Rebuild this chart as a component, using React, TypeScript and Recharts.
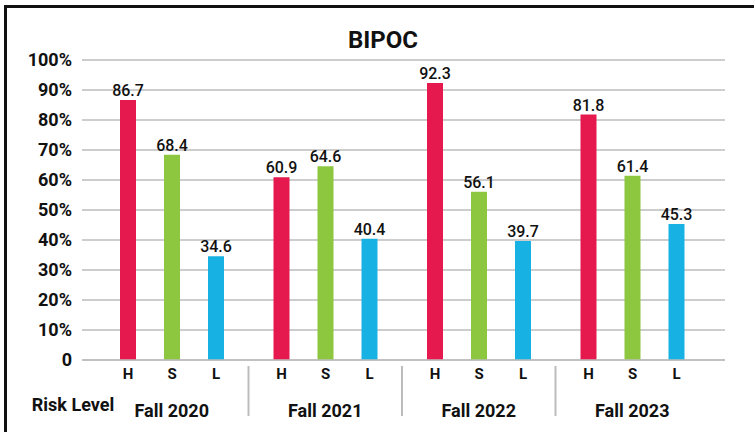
import { BarChart, Bar, XAxis, YAxis, CartesianGrid, LabelList } from 'recharts'

const seasons = ['Fall 2020', 'Fall 2021', 'Fall 2022', 'Fall 2023']
const highRisk = [86.7, 60.9, 92.3, 81.8]
const someRisk = [68.4, 64.6, 56.1, 61.4]
const lowRisk = [34.6, 40.4, 39.7, 45.3]
const riskLevels = ['H', 'S', 'L']
const yTicks = [0, 10, 20, 30, 40, 50, 60, 70, 80, 90, 100]

const data = seasons.map((season, i) => ({
  season,
  H: highRisk[i],
  S: someRisk[i],
  L: lowRisk[i],
}))

const FONT = "Roboto, 'Liberation Sans', sans-serif"
const GRID = '#bcbcbc'
const COLORS = ['#e5194e', '#8dc63f', '#17b1e3']

// letter under each bar (H / S / L), placed from the bar's own geometry
const riskLabel = (letter: string) => (p: any) => (
  <text
    x={p.x + p.width / 2}
    y={p.y + p.height + 19}
    textAnchor="middle"
    fontFamily={FONT}
    fontWeight="bold"
    fontSize={15}
    fill="#111"
  >
    {letter}
  </text>
)

const valueLabel = (p: any) => (
  <text
    x={p.x + p.width / 2}
    y={p.y - 4}
    textAnchor="middle"
    fontFamily={FONT}
    fontWeight={500}
    fontSize={16}
    fill="#111"
  >
    {p.value}
  </text>
)

function SeasonTick(props: any) {
  const { x, y, payload } = props
  const half = payload.offset ?? 77
  return (
    <g>
      {payload.index > 0 && (
        <line x1={x - half} x2={x - half} y1={y} y2={y + 50} stroke={GRID} strokeWidth={2} />
      )}
      <text x={x} y={y + 51} textAnchor="middle" fontFamily={FONT} fontWeight="bold" fontSize={18} fill="#111">
        {payload.value}
      </text>
    </g>
  )
}

export default function App() {
  return (
    <div style={{ position: 'absolute', left: 0, top: 0, width: 754, height: 432, background: '#fff' }}>
      <div
        style={{
          position: 'absolute',
          left: 4,
          top: 5,
          right: 0,
          bottom: 0,
          borderTop: '3px solid #111',
          borderLeft: '3px solid #111',
        }}
      />
      <div style={{ position: 'absolute', left: 0, top: 0 }}>
        <BarChart
          width={754}
          height={432}
          data={data}
          margin={{ top: 60, right: 29, bottom: 12, left: 22 }}
          barSize={16}
          barGap={28}
        >
          <text x={383} y={48} textAnchor="middle" fontFamily={FONT} fontWeight="bold" fontSize={24} fill="#111">
            BIPOC
          </text>
          <text x={73} y={411} textAnchor="middle" fontFamily={FONT} fontWeight="bold" fontSize={18} fill="#111">
            Risk Level
          </text>
          <CartesianGrid vertical={false} stroke={GRID} strokeWidth={1.5} />
          <XAxis
            dataKey="season"
            height={60}
            padding={{ left: 13, right: 16 }}
            axisLine={{ stroke: GRID, strokeWidth: 1.5 }}
            tickLine={false}
            tickMargin={0}
            tick={<SeasonTick />}
            interval={0}
          />
          <YAxis
            width={60}
            domain={[0, 100]}
            ticks={yTicks}
            interval={0}
            axisLine={false}
            tickLine={false}
            tickMargin={4}
            tickFormatter={(v: number) => (v === 0 ? '0' : `${v}%`)}
            tick={{ fontFamily: FONT, fontWeight: 'bold', fontSize: 18, fill: '#111' }}
          />
          {riskLevels.map((r, i) => (
            <Bar key={r} dataKey={r} fill={COLORS[i]} isAnimationActive={false}>
              <LabelList dataKey={r} content={valueLabel} />
              <LabelList dataKey={r} content={riskLabel(r)} />
            </Bar>
          ))}
        </BarChart>
      </div>
    </div>
  )
}
